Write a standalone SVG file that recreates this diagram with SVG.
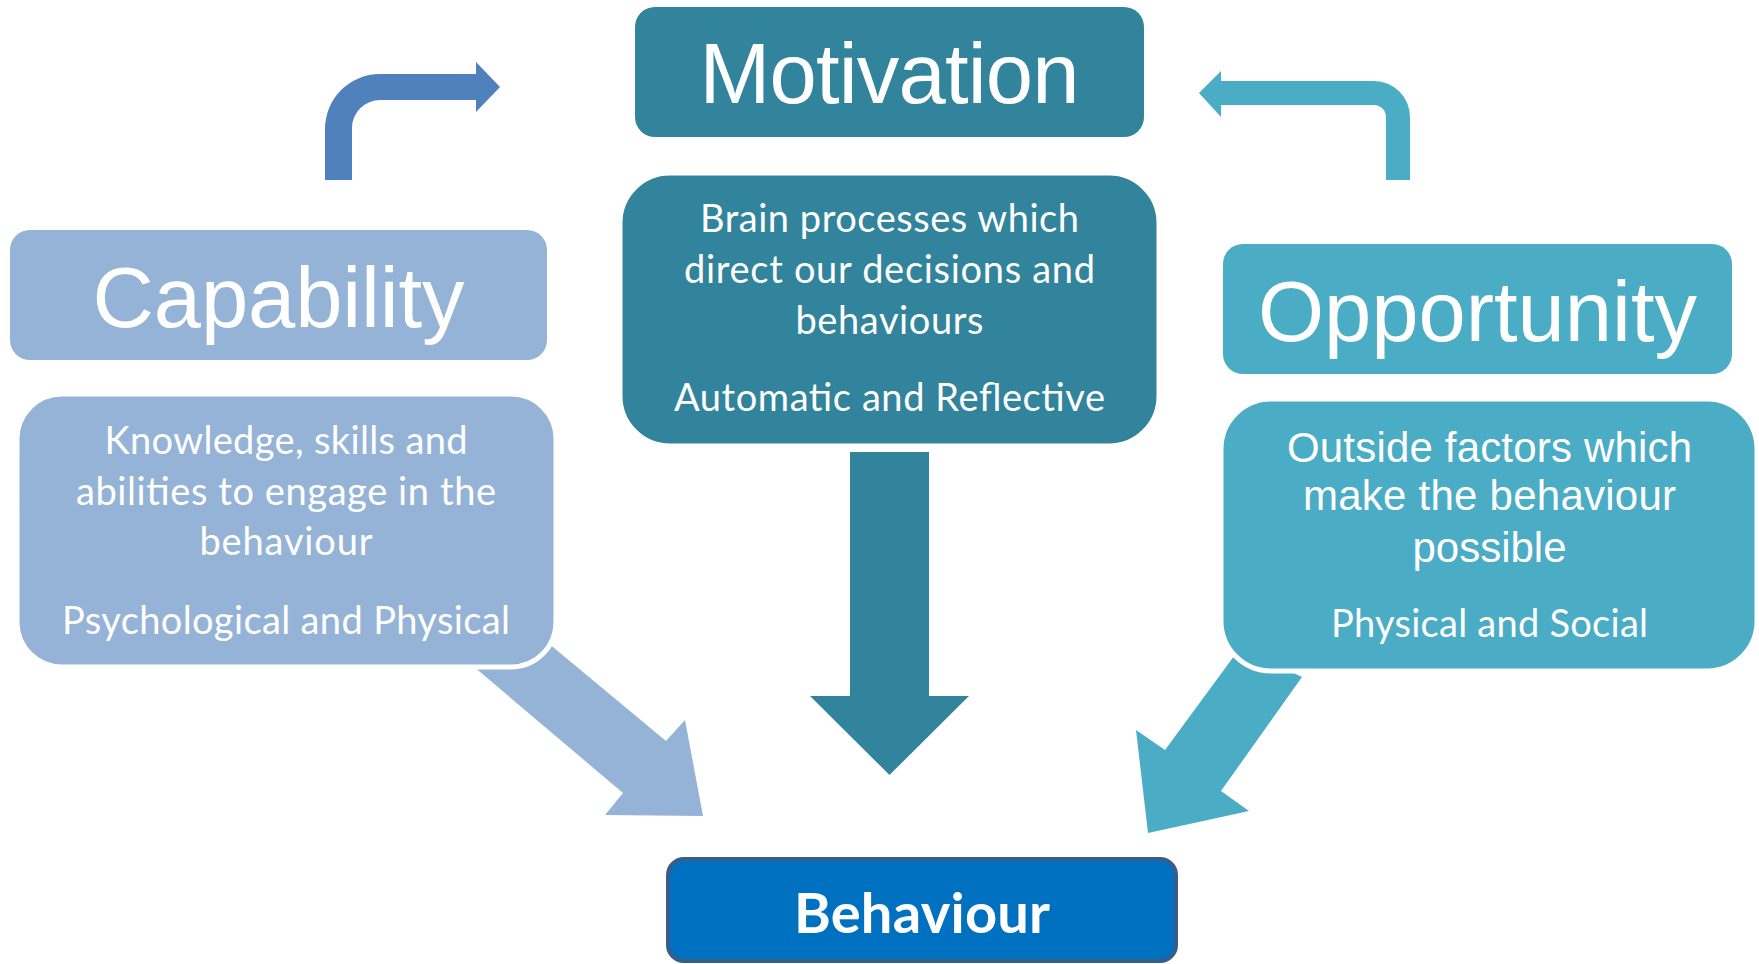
<svg xmlns="http://www.w3.org/2000/svg" width="1759" height="964" viewBox="0 0 1759 964">
<style>
.title{font-family:"Liberation Sans",Arial,sans-serif;font-size:85px;fill:#fff;text-anchor:middle}
.cal{font-family:Lato,"Open Sans",sans-serif;font-size:38px;fill:#fff;text-anchor:middle}
.ari{font-family:"Liberation Sans",Arial,sans-serif;font-size:42px;fill:#fff;text-anchor:middle}
.beh{font-family:Lato,"Open Sans",sans-serif;font-size:56px;font-weight:bold;fill:#fff;text-anchor:middle}
.desc{stroke:#fff;stroke-width:5}
</style>
<rect width="1759" height="964" fill="#fff"/>
<g id="connectors">
  <path id="cap-to-mot" d="M325,180 L325,129 A55,55 0 0 1 380,74 L476,74 L476,62 L500,87 L476,112 L476,100 L380,100 A28,28 0 0 0 352,128 L352,180 Z" fill="#4F81BD"/>
  <path id="opp-to-mot" d="M1410,180 L1410,117 A36,36 0 0 0 1374,81 L1221,81 L1221,71 L1199,93 L1221,117 L1221,105 L1374,105 A12,12 0 0 1 1386,117 L1386,180 Z" fill="#4BACC6"/>
  <polygon id="mot-to-beh" points="850,452 929,452 929,696 969,696 889.5,775 810,696 850,696" fill="#31849B"/>
  <polygon id="cap-to-beh" points="460,655 623,793 605,815 703,816 685,720 666,741 530,628" fill="#95B3D7"/>
  <polygon id="opp-to-beh" points="1240,648 1165,750 1136,730 1148,833 1249,811 1221,791 1302,677" fill="#4BACC6"/>
</g>
<g id="capability-title">
  <rect x="10" y="230" width="537" height="130" rx="20" fill="#95B3D7"/>
  <text class="title" x="278.5" y="327" textLength="372">Capability</text>
</g>
<g id="capability-desc">
  <rect class="desc" x="17" y="394" width="539" height="273" rx="45" fill="#95B3D7"/>
  <text class="cal" x="286" y="454" textLength="363">Knowledge, skills and</text>
  <text class="cal" x="286" y="505" textLength="420">abilities to engage in the</text>
  <text class="cal" x="286" y="555" textLength="173">behaviour</text>
  <text class="cal" x="286" y="634" textLength="448">Psychological and Physical</text>
</g>
<g id="motivation-title">
  <rect x="635" y="7" width="509" height="130" rx="20" fill="#31849B"/>
  <text class="title" x="889.5" y="103" textLength="380">Motivation</text>
</g>
<g id="motivation-desc">
  <rect class="desc" x="620" y="173" width="539" height="273" rx="50" fill="#31849B"/>
  <text class="cal" x="889.5" y="232" textLength="379">Brain processes which</text>
  <text class="cal" x="889.5" y="283" textLength="411">direct our decisions and</text>
  <text class="cal" x="889.5" y="334" textLength="188">behaviours</text>
  <text class="cal" x="889.5" y="411" textLength="431">Automatic and Reflective</text>
</g>
<g id="opportunity-title">
  <rect x="1223" y="244" width="509" height="130" rx="20" fill="#4BACC6"/>
  <text class="title" x="1477.5" y="341" textLength="439">Opportunity</text>
</g>
<g id="opportunity-desc">
  <rect class="desc" x="1221" y="399" width="536" height="272" rx="50" fill="#4BACC6"/>
  <text class="ari" x="1489.5" y="462" textLength="405">Outside factors which</text>
  <text class="ari" x="1489.5" y="510" textLength="373">make the behaviour</text>
  <text class="ari" x="1489.5" y="562" textLength="154">possible</text>
  <text class="cal" x="1489.5" y="637" textLength="317">Physical and Social</text>
</g>
<g id="behaviour">
  <rect x="668" y="859" width="508" height="102" rx="16" fill="#0070C0" stroke="#385D8A" stroke-width="4"/>
  <text class="beh" x="922" y="933" textLength="256">Behaviour</text>
</g>
</svg>
